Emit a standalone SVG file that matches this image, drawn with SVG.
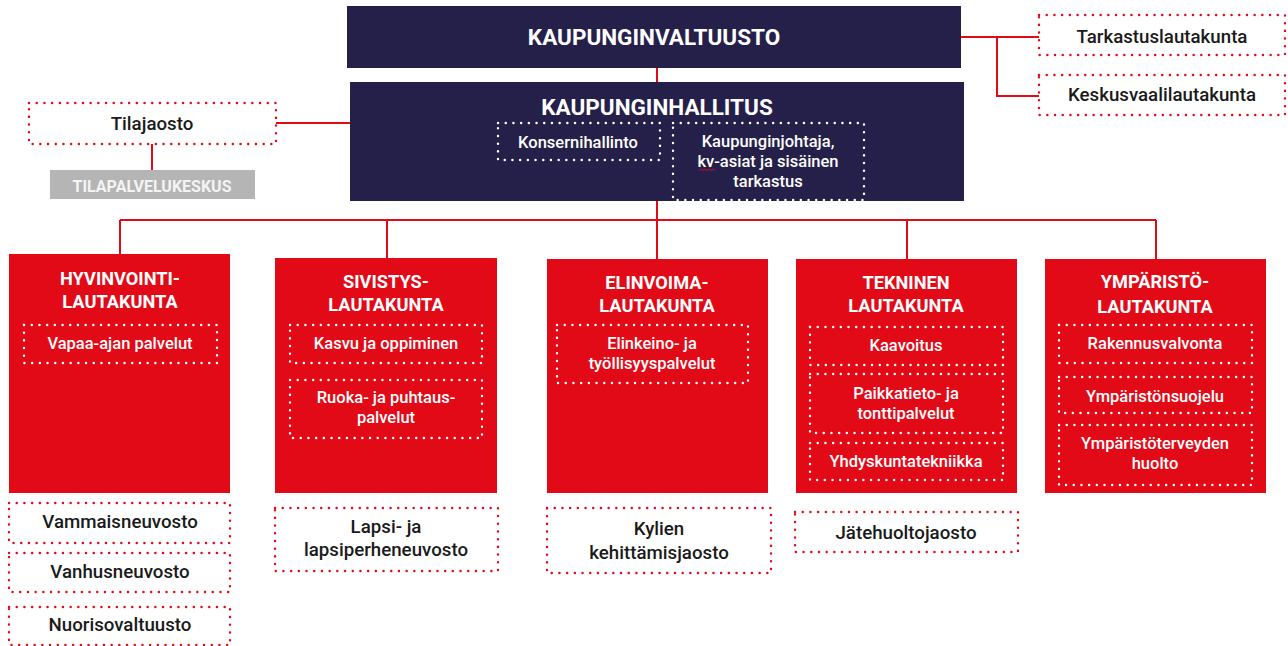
<svg xmlns="http://www.w3.org/2000/svg" width="1288" height="646" viewBox="0 0 1288 646">
<style>
.navy{fill:#25204a}
.red{fill:#e30a18}
.gray{fill:#b5b5b5}
.rdot{fill:#fff;stroke:#e30a18;stroke-width:2.4;stroke-linecap:round;stroke-dasharray:0.1 7.6}
.wdot{fill:none;stroke:#fff;stroke-width:2.4;stroke-linecap:round;stroke-dasharray:0.1 7.6}
.con{fill:none;stroke:#e30a18;stroke-width:2}
text{font-family:Roboto,"Noto Sans","Liberation Sans",sans-serif;text-anchor:middle}
.t1{font-size:22.5px;font-weight:700;fill:#fff}
.t2{font-size:18.2px;font-weight:700;fill:#fff}
.ws{font-size:16.5px;font-weight:500;fill:#fff}
.bk{font-size:18.7px;font-weight:500;fill:#1a1a1a}
.gt{font-size:16px;font-weight:700;fill:#f4f4f4}
</style>
<g id="connectors">
<path class="con" d="M657 68V82"/>
<path class="con" d="M961 37H1039M997 37V96H1039"/>
<path class="con" d="M276 123H350"/>
<path class="con" d="M152 144V170"/>
<path class="con" d="M657 201V220M120 220H1156M120 220V254M387 220V258M657 220V259M907 220V259M1156 220V259"/>
</g>
<g id="kaupunginvaltuusto">
<rect class="navy" x="347" y="6" width="614" height="62"/>
<text class="t1" x="654" y="45">KAUPUNGINVALTUUSTO</text>
</g>
<g id="kaupunginhallitus">
<rect class="navy" x="350" y="82" width="614" height="119"/>
<text class="t1" x="657" y="115">KAUPUNGINHALLITUS</text>
<rect class="wdot" x="498" y="123" width="162" height="37"/>
<text class="ws" x="578" y="147.5">Konsernihallinto</text>
<rect class="wdot" x="673" y="123" width="191" height="77"/>
<text class="ws" x="768" y="146.5">Kaupunginjohtaja,</text>
<text class="ws" x="768" y="166.5">kv-asiat ja sisäinen</text>
<text class="ws" x="768" y="186.5">tarkastus</text>
<path d="M699 170.5l2-1.5 2 1.5 2-1.5 2 1.5 2-1.5 2 1.5 2-1.5 2 1.5" fill="none" stroke="#e30a18" stroke-width="0.9"/>
</g>
<g id="tarkastuslautakunta">
<rect class="rdot" x="1039" y="15" width="246" height="40"/>
<text class="bk" x="1162" y="43">Tarkastuslautakunta</text>
</g>
<g id="keskusvaalilautakunta">
<rect class="rdot" x="1039" y="75" width="246" height="40"/>
<text class="bk" x="1162" y="101">Keskusvaalilautakunta</text>
</g>
<g id="tilajaosto">
<rect class="rdot" x="29" y="103" width="247" height="41"/>
<text class="bk" x="152" y="129.5">Tilajaosto</text>
</g>
<g id="tilapalvelukeskus">
<rect class="gray" x="50" y="170" width="205" height="29"/>
<text class="gt" x="152" y="192">TILAPALVELUKESKUS</text>
</g>
<g id="hyvinvointilautakunta">
<rect class="red" x="9" y="254" width="221" height="239"/>
<text class="t2" x="120" y="285">HYVINVOINTI-</text>
<text class="t2" x="120" y="308">LAUTAKUNTA</text>
<rect class="wdot" x="24" y="325" width="193" height="38"/>
<text class="ws" x="120" y="349">Vapaa-ajan palvelut</text>
</g>
<g id="sivistyslautakunta">
<rect class="red" x="275" y="258" width="222" height="235"/>
<text class="t2" x="386" y="288">SIVISTYS-</text>
<text class="t2" x="386" y="311">LAUTAKUNTA</text>
<rect class="wdot" x="290" y="325" width="192" height="38"/>
<text class="ws" x="386" y="349">Kasvu ja oppiminen</text>
<rect class="wdot" x="290" y="380" width="192" height="58"/>
<text class="ws" x="386" y="403">Ruoka- ja puhtaus-</text>
<text class="ws" x="386" y="423">palvelut</text>
</g>
<g id="elinvoimalautakunta">
<rect class="red" x="547" y="259" width="221" height="234"/>
<text class="t2" x="657" y="289">ELINVOIMA-</text>
<text class="t2" x="657" y="312">LAUTAKUNTA</text>
<rect class="wdot" x="557" y="325" width="191" height="58"/>
<text class="ws" x="652" y="349">Elinkeino- ja</text>
<text class="ws" x="652" y="369">työllisyyspalvelut</text>
</g>
<g id="tekninenlautakunta">
<rect class="red" x="796" y="259" width="221" height="234"/>
<text class="t2" x="906" y="289">TEKNINEN</text>
<text class="t2" x="906" y="312">LAUTAKUNTA</text>
<rect class="wdot" x="810" y="327" width="193" height="38"/>
<text class="ws" x="906" y="351">Kaavoitus</text>
<rect class="wdot" x="810" y="374" width="193" height="59"/>
<text class="ws" x="906" y="399">Paikkatieto- ja</text>
<text class="ws" x="906" y="419">tonttipalvelut</text>
<rect class="wdot" x="810" y="443" width="193" height="37"/>
<text class="ws" x="906" y="467">Yhdyskuntatekniikka</text>
</g>
<g id="ymparistolautakunta">
<rect class="red" x="1045" y="259" width="221" height="234"/>
<text class="t2" x="1155" y="288">YMPÄRISTÖ-</text>
<text class="t2" x="1155" y="313">LAUTAKUNTA</text>
<rect class="wdot" x="1059" y="325" width="193" height="38"/>
<text class="ws" x="1155" y="349">Rakennusvalvonta</text>
<rect class="wdot" x="1059" y="377" width="193" height="36"/>
<text class="ws" x="1155" y="402">Ympäristönsuojelu</text>
<rect class="wdot" x="1059" y="425" width="193" height="60"/>
<text class="ws" x="1155" y="449">Ympäristöterveyden</text>
<text class="ws" x="1155" y="469">huolto</text>
</g>
<g id="vammaisneuvosto">
<rect class="rdot" x="9" y="503" width="221" height="40"/>
<text class="bk" x="120" y="528">Vammaisneuvosto</text>
</g>
<g id="vanhusneuvosto">
<rect class="rdot" x="9" y="553" width="221" height="39"/>
<text class="bk" x="120" y="578">Vanhusneuvosto</text>
</g>
<g id="nuorisovaltuusto">
<rect class="rdot" x="9" y="607" width="221" height="38"/>
<text class="bk" x="120" y="631">Nuorisovaltuusto</text>
</g>
<g id="lapsineuvosto">
<rect class="rdot" x="275" y="508" width="223" height="63"/>
<text class="bk" x="386" y="533">Lapsi- ja</text>
<text class="bk" x="386" y="556">lapsiperheneuvosto</text>
</g>
<g id="kylienjaosto">
<rect class="rdot" x="547" y="508" width="224" height="65"/>
<text class="bk" x="659" y="535">Kylien</text>
<text class="bk" x="659" y="559">kehittämisjaosto</text>
</g>
<g id="jatehuoltojaosto">
<rect class="rdot" x="795" y="512" width="223" height="40"/>
<text class="bk" x="906" y="539">Jätehuoltojaosto</text>
</g>
</svg>
